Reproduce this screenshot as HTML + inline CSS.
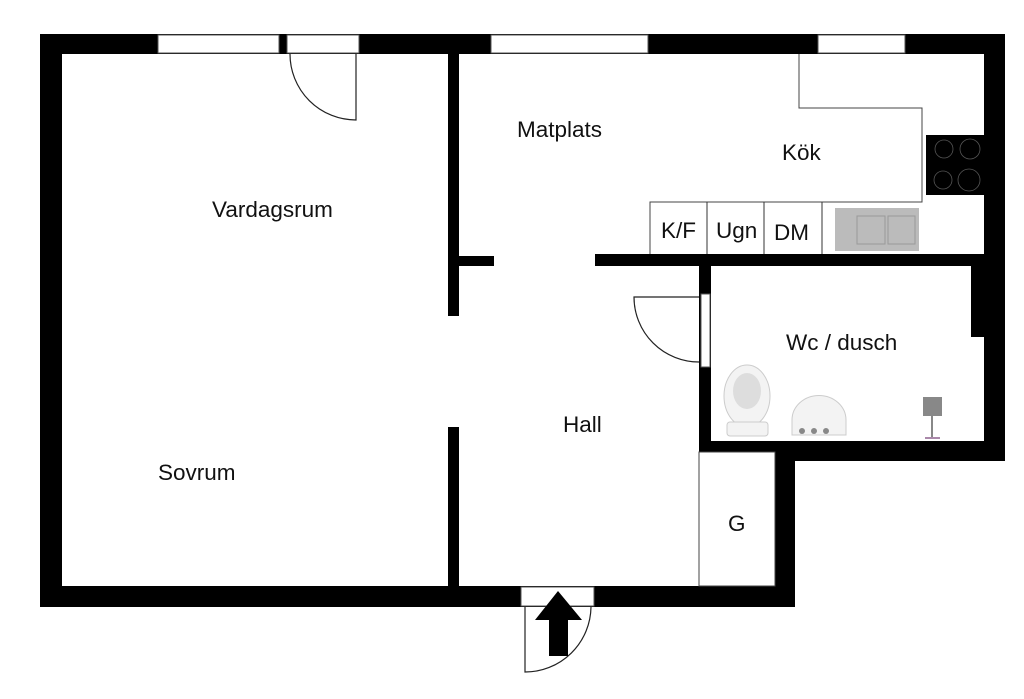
<!DOCTYPE html>
<html><head><meta charset="utf-8"><style>
html,body{margin:0;padding:0;background:#fff;}
svg{display:block;}
text{font-family:"Liberation Sans",Arial,sans-serif;font-size:22.5px;fill:#111;}
</style></head><body>
<svg width="1024" height="699" viewBox="0 0 1024 699" xmlns="http://www.w3.org/2000/svg">
<rect width="1024" height="699" fill="#fff"/>
<g fill="#000">
<rect x="40" y="34" width="965" height="20"/>
<rect x="40" y="34" width="22" height="573"/>
<rect x="40" y="586" width="755" height="21"/>
<rect x="984" y="34" width="21" height="427"/>
<rect x="971" y="266" width="34" height="71"/>
<rect x="699" y="441" width="306" height="20"/>
<rect x="775" y="441" width="20" height="166"/>
<rect x="448" y="54" width="11" height="262"/>
<rect x="448" y="427" width="11" height="160"/>
<rect x="459" y="256" width="35" height="10"/>
<rect x="595" y="254" width="410" height="12"/>
<rect x="699" y="254" width="12" height="207"/>
</g>
<g fill="#fff" stroke="#555" stroke-width="1">
<rect x="158" y="35" width="121" height="18"/>
<rect x="287" y="35" width="72" height="18"/>
<rect x="491" y="35" width="157" height="18"/>
<rect x="818" y="35" width="87" height="18"/>
<rect x="521" y="587" width="73" height="19"/>
<rect x="701" y="294" width="9" height="73"/>
</g>
<rect x="699" y="452" width="76" height="134" fill="#fff" stroke="#444" stroke-width="1"/>
<g fill="none" stroke="#222" stroke-width="1.2">
<path d="M356 54 L356 120 A66 66 0 0 1 290 54"/>
<path d="M699 297 L634 297 A65 65 0 0 0 699 362"/>
<path d="M525 607 L525 672 A66 66 0 0 0 591 607"/>
</g>
<polygon points="558,591 582,620 568,620 568,656 549,656 549,620 535,620" fill="#000"/>
<path d="M799 54 L799 108 L922 108 L922 202 L650 202 L650 254" fill="none" stroke="#444" stroke-width="1"/>
<g fill="none" stroke="#333" stroke-width="1">
<line x1="707" y1="202" x2="707" y2="254"/>
<line x1="764" y1="202" x2="764" y2="254"/>
<line x1="822" y1="202" x2="822" y2="254"/>
</g>
<rect x="835" y="208" width="84" height="43" fill="#bbb"/>
<rect x="857" y="216" width="28" height="28" fill="none" stroke="#999"/>
<rect x="888" y="216" width="27" height="28" fill="none" stroke="#999"/>
<rect x="926" y="135" width="58" height="60" fill="#000"/>
<g fill="none" stroke="#555" stroke-width="0.8">
<circle cx="944" cy="149" r="9"/><circle cx="970" cy="149" r="10"/>
<circle cx="943" cy="180" r="9"/><circle cx="969" cy="180" r="11"/>
</g>
<ellipse cx="747" cy="396" rx="23" ry="31" fill="#f3f3f3" stroke="#ccc"/>
<ellipse cx="747" cy="391" rx="14" ry="18" fill="#ddd"/>
<rect x="727" y="422" width="41" height="14" rx="3" fill="#f3f3f3" stroke="#ccc"/>
<path d="M792 435 L792 420 A22 20 0 0 1 846 420 L846 435 Z" fill="#f3f3f3" stroke="#ccc"/>
<circle cx="802" cy="431" r="3" fill="#888"/><circle cx="814" cy="431" r="3" fill="#888"/><circle cx="826" cy="431" r="3" fill="#888"/>
<rect x="923" y="397" width="19" height="19" fill="#888"/>
<line x1="932" y1="416" x2="932" y2="438" stroke="#888" stroke-width="2"/>
<line x1="925" y1="438" x2="940" y2="438" stroke="#a8a" stroke-width="2"/>
<text x="212" y="217">Vardagsrum</text>
<text x="158" y="480">Sovrum</text>
<text x="517" y="137">Matplats</text>
<text x="782" y="160">Kök</text>
<text x="563" y="432">Hall</text>
<text x="786" y="350">Wc / dusch</text>
<text x="728" y="531">G</text>
<text x="661" y="238">K/F</text>
<text x="716" y="238">Ugn</text>
<text x="774" y="240">DM</text>
</svg>
</body></html>
